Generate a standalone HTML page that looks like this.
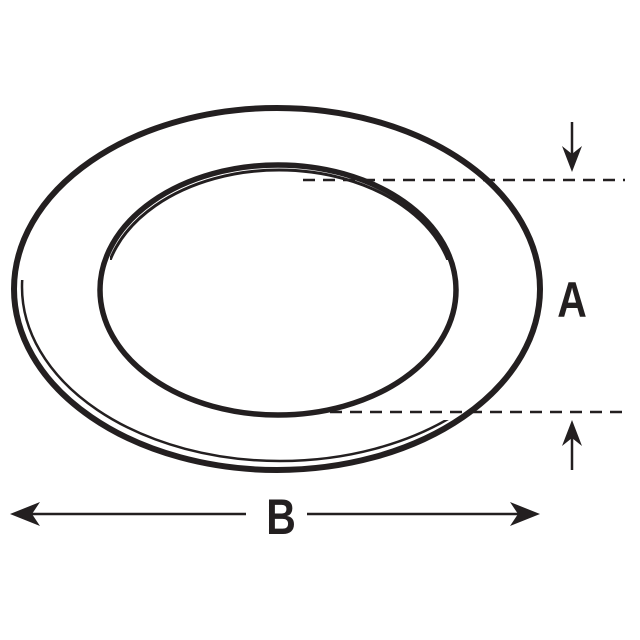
<!DOCTYPE html>
<html><head><style>html,body{margin:0;padding:0;background:#fff;}svg{display:block}</style></head>
<body>
<svg width="640" height="640" viewBox="0 0 640 640" xmlns="http://www.w3.org/2000/svg">
<defs>
<clipPath id="ll"><polygon points="0,280 40,280 200,420 460,420 470,640 0,640"/></clipPath>
<clipPath id="tp"><polygon points="110,160 460,160 460,260 110,260"/></clipPath>
</defs>
<g fill="none" stroke="#231f20">
<ellipse cx="277" cy="289" rx="263" ry="181" stroke-width="6"/>
<ellipse cx="280" cy="287" rx="258" ry="174" stroke-width="2.5" clip-path="url(#ll)"/>
<ellipse cx="278" cy="290" rx="178" ry="125" stroke-width="5.5"/>
<ellipse cx="279" cy="292" rx="175" ry="122" stroke-width="3" clip-path="url(#tp)"/>
<line x1="303" y1="180" x2="625" y2="180" stroke-width="2.5" stroke-dasharray="12,8"/>
<line x1="330" y1="412" x2="625" y2="412" stroke-width="2.5" stroke-dasharray="12,8"/>
<line x1="572" y1="122" x2="572" y2="160" stroke-width="2.5"/>
<line x1="572" y1="432" x2="572" y2="470" stroke-width="2.5"/>
<line x1="22" y1="514" x2="246" y2="514" stroke-width="2.5"/>
<line x1="307" y1="514" x2="528" y2="514" stroke-width="2.5"/>
</g>
<g fill="#231f20">
<path d="M572 172 L562 146 L572 154 L582 146 Z"/>
<path d="M572 420 L562 446 L572 438 L582 446 Z"/>
<path d="M10 514 L40 502 L32 514 L40 526 Z"/>
<path d="M540 514 L510 502 L518 514 L510 526 Z"/>
<text transform="translate(572,317) scale(0.82,1)" font-family="Liberation Sans, sans-serif" font-weight="bold" font-size="50" text-anchor="middle">A</text>
<text transform="translate(281,534) scale(0.82,1)" font-family="Liberation Sans, sans-serif" font-weight="bold" font-size="50" text-anchor="middle">B</text>
</g>
</svg>
</body></html>
